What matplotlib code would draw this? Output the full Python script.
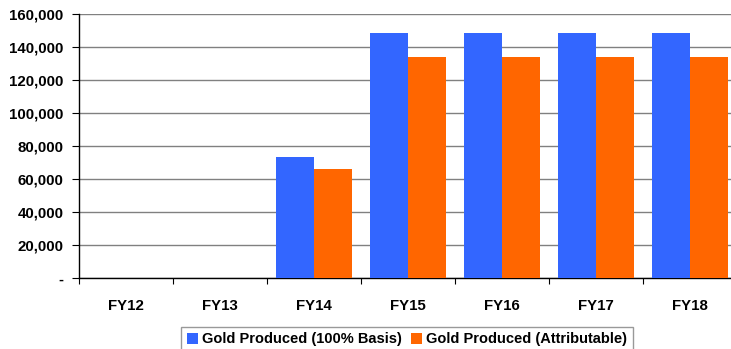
import numpy as np
import matplotlib.pyplot as plt
from matplotlib.ticker import FuncFormatter

years = ["FY12", "FY13", "FY14", "FY15", "FY16", "FY17", "FY18"]
basis100 = [0, 0, 73500, 148600, 148600, 148600, 148600]
attributable = [0, 0, 66200, 134100, 134100, 134100, 134100]

plt.rcParams['font.family'] = ['Liberation Sans', 'DejaVu Sans']
plt.rcParams['font.weight'] = 'bold'
plt.rcParams['font.size'] = 10.8

fig = plt.figure(figsize=(7.31, 3.49), dpi=100)
ax = fig.add_axes([79 / 731, 1 - 278.3 / 349, 658 / 731, 264 / 349])

x = np.arange(len(years))
w = 0.405
ax.bar(x - w / 2, basis100, w, color="#3366ff", label="Gold Produced (100% Basis)", zorder=3)
ax.bar(x + w / 2, attributable, w, color="#ff6600", label="Gold Produced (Attributable)", zorder=3)

ax.set_xlim(-0.5, len(years) - 0.5)
ax.set_ylim(0, 160000)
ax.set_yticks(np.arange(0, 160001, 20000))
ax.yaxis.set_major_formatter(FuncFormatter(lambda v, p: "-" if v == 0 else f"{int(v):,}"))
ax.set_xticks(x)
ax.set_xticklabels(years)
ax.set_xticks(np.arange(-0.5, len(years), 1), minor=True)
ax.tick_params(axis="x", which="major", length=0, pad=15)
ax.tick_params(axis="x", which="minor", length=4, width=0.8, color="black")
ax.tick_params(axis="y", length=5, width=0.8, pad=6)

ax.grid(axis="y", color="#808080", linewidth=1, zorder=0)
for s in ["top", "right"]:
    ax.spines[s].set_visible(False)
ax.spines["left"].set_linewidth(1)
ax.spines["bottom"].set_linewidth(1)

leg = fig.legend(loc="lower center", bbox_to_anchor=(407 / 731, -0.03), ncol=2,
                 frameon=True, fancybox=False, edgecolor="#808080",
                 handlelength=0.75, handleheight=0.75, handletextpad=0.3,
                 columnspacing=0.6, borderpad=0.4, fontsize=10.5)
leg.get_frame().set_linewidth(1)

fig.savefig("out.png", dpi=100)
